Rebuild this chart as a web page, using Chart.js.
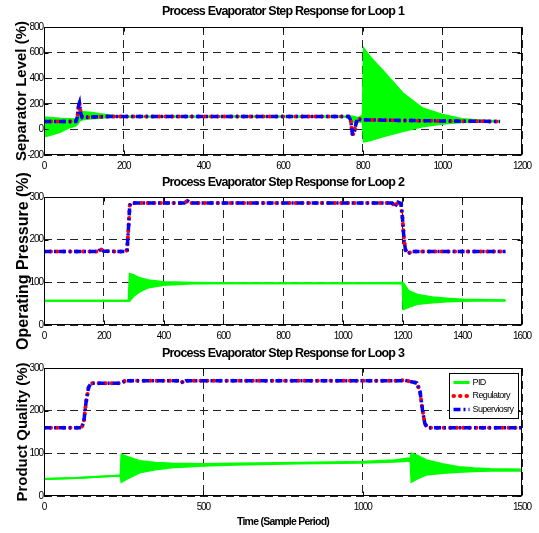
<!DOCTYPE html>
<html>
<head>
<meta charset="utf-8">
<script src="https://cdn.jsdelivr.net/npm/chart.js@4.4.0/dist/chart.umd.min.js"></script>
<style>
  body { margin: 0; background: #fff; }
  #wrap { position: relative; width: 539px; height: 533px; }
  canvas { position: absolute; left: 0; }
</style>
</head>
<body>
<div id="wrap">
  <canvas id="loop1Chart" width="539" height="172" style="top:0px"></canvas>
  <canvas id="loop2Chart" width="539" height="200" style="top:172px"></canvas>
  <canvas id="loop3Chart" width="539" height="189" style="top:344px"></canvas>
</div>
<script>
// series names (legend text as in the original figure)
const seriesNames = ['PID', 'Regulatory', 'Superviosry'];
const chartTitles = ['Process Evaporator Step Response for Loop 1',
                     'Process Evaporator Step Response for Loop 2',
                     'Process Evaporator Step Response for Loop 3'];
const yTitles = ['Separator Level (%)', 'Operating Pressure (%)', 'Product Quality (%)'];
const xTitle = 'Time (Sample Period)';

// Loop 1 - regulatory / supervisory set-point response
const loop1RefT = [0, 80, 84, 87, 89, 92, 96, 110, 150, 200, 400, 600, 765, 770, 774, 778, 782, 787, 795, 850, 900, 1000, 1100, 1145];
const loop1Reg  = [62, 62, 100, 190, 208, 130, 92, 95, 100, 101, 101, 101, 101, 70, -35, -38, 30, 85, 76, 72, 70, 66, 63, 62];
const loop1Sup  = [62, 62, 100, 190, 208, 130, 92, 95, 100, 101, 101, 101, 101, 70, -35, -38, 30, 85, 76, 72, 70, 66, 63, 62];
// Loop 1 - PID oscillation envelope (upper / lower)
const loop1PidT  = [0, 20, 40, 60, 80, 86, 90, 100, 120, 140, 160, 180, 200, 400, 700, 770, 775, 790, 800, 803, 820, 850, 900, 950, 1000, 1050, 1100, 1145];
const loop1PidHi = [95, 90, 85, 82, 80, 80, 130, 135, 130, 120, 112, 105, 102, 101, 101, 101, 100, 90, 110, 630, 560, 460, 285, 165, 115, 82, 70, 65];
const loop1PidLo = [-55, -40, -20, 10, 30, 50, 70, 80, 85, 90, 95, 98, 99, 100, 100, 99, 60, 60, 60, -95, -85, -55, -15, 22, 44, 55, 60, 62];

// Loop 2
const loop2RefT = [0, 180, 190, 200, 270, 278, 283, 287, 292, 300, 470, 480, 490, 600, 1000, 1165, 1175, 1185, 1195, 1200, 1205, 1210, 1218, 1230, 1300, 1545];
const loop2Reg  = [172, 172, 178, 173, 172, 175, 230, 280, 287, 286, 286, 291, 286, 286, 286, 286, 278, 288, 285, 250, 200, 176, 167, 172, 172, 172];
const loop2Sup  = [172, 172, 178, 173, 172, 175, 230, 280, 287, 286, 286, 291, 286, 286, 286, 286, 278, 288, 285, 250, 200, 176, 167, 172, 172, 172];
const loop2PidT  = [0, 283, 287, 300, 320, 350, 400, 500, 700, 1000, 1200, 1203, 1220, 1250, 1300, 1350, 1400, 1450, 1545];
const loop2PidHi = [57, 57, 120, 117, 110, 105, 101, 99, 98, 98, 99, 98, 80, 71, 65, 62, 60, 59, 58];
const loop2PidLo = [57, 57, 57, 68, 78, 88, 94, 97, 98, 98, 97, 37, 42, 49, 53, 55, 56, 57, 57];

// Loop 3
const loop3RefT = [0, 118, 125, 132, 140, 148, 160, 240, 255, 300, 430, 437, 445, 500, 1000, 1120, 1128, 1170, 1180, 1188, 1195, 1203, 1215, 1500];
const loop3Reg  = [160, 160, 175, 220, 255, 264, 264, 264, 270, 270, 270, 265, 270, 270, 270, 270, 272, 265, 245, 200, 170, 160, 160, 160];
const loop3Sup  = [160, 160, 175, 220, 255, 264, 264, 264, 270, 270, 270, 265, 270, 270, 270, 270, 272, 265, 245, 200, 170, 160, 160, 160];
const loop3PidT  = [0, 100, 200, 240, 243, 260, 300, 350, 400, 500, 600, 800, 1000, 1100, 1140, 1150, 1153, 1170, 1200, 1250, 1300, 1350, 1400, 1500];
const loop3PidHi = [40, 42, 46, 48, 97, 92, 82, 78, 76, 75, 76, 78, 80, 84, 88, 88, 100, 95, 84, 75, 68, 65, 63, 62];
const loop3PidLo = [40, 42, 46, 48, 33, 40, 55, 62, 67, 71, 73, 76, 78, 80, 82, 82, 33, 40, 50, 54, 56, 58, 59, 59];

// axis ranges / ticks
const xRanges = [[0, 1200, 200], [0, 1600, 200], [0, 1500, 500]];
const yRanges = [[-200, 800, 200], [0, 300, 100], [0, 300, 100]];

const GREEN = '#00ff00', RED = '#ff0000', BLUE = '#0000ff';
const SANS = "'Liberation Sans', Arial, sans-serif";

// the original figure uses a narrow, tightly set Helvetica; no narrow face is
// installed, so squeeze letter spacing per font size instead
const tightText = { '12.5px': '-0.8px', '10px': '-1.1px', '10.5px': '-0.75px', '9px': '-0.6px' };
['fillText', 'measureText'].forEach(fn => {
  const orig = CanvasRenderingContext2D.prototype[fn];
  CanvasRenderingContext2D.prototype[fn] = function () {
    const m = this.font.match(/([\d.]+px)/);
    this.letterSpacing = (m && tightText[m[1]]) || '0px';
    return orig.apply(this, arguments);
  };
});

function pts(xs, ys) { return xs.map((x, i) => ({ x: x, y: ys[i] })); }

// MATLAB-like box with inward ticks, and optional boxed legend
const framePlugin = {
  id: 'frame',
  afterDraw(chart, args, opts) {
    const { ctx, chartArea: a, scales } = chart;
    ctx.save();
    ctx.setLineDash([]);
    ctx.strokeStyle = '#000';
    ctx.lineWidth = 1;
    const L = Math.round(a.left) + 0.5, R = Math.round(a.right) - 0.5;
    const T = Math.round(a.top) + 0.5, B = Math.round(a.bottom) - 0.5;
    ctx.strokeRect(L, T, R - L, B - T);
    ctx.beginPath();
    scales.x.ticks.forEach(t => {
      const p = Math.round(scales.x.getPixelForValue(t.value)) + 0.5;
      ctx.moveTo(p, B); ctx.lineTo(p, B - 4);
      ctx.moveTo(p, T); ctx.lineTo(p, T + 4);
    });
    scales.y.ticks.forEach(t => {
      const p = Math.round(scales.y.getPixelForValue(t.value)) + 0.5;
      ctx.moveTo(L, p); ctx.lineTo(L + 4, p);
      ctx.moveTo(R, p); ctx.lineTo(R - 4, p);
    });
    ctx.stroke();

    if (opts.legend) {
      const w = 69, h = 45;
      const x0 = Math.round(a.right) - 4 - w + 0.5, y0 = Math.round(a.top) + 5 + 0.5;
      ctx.fillStyle = '#fff';
      ctx.fillRect(x0, y0, w, h);
      ctx.lineWidth = 1;
      ctx.strokeStyle = '#000';
      ctx.strokeRect(x0, y0, w, h);
      const styles = [
        { c: GREEN, w: 3, dash: [], cap: 'butt' },
        { c: RED, w: 4, dash: [0.5, 6], cap: 'round' },
        { c: BLUE, w: 3.5, dash: [7, 3, 2, 3], cap: 'butt' }
      ];
      ctx.font = '9px ' + SANS;
      ctx.textBaseline = 'middle';
      ctx.textAlign = 'left';
      seriesNames.forEach((name, i) => {
        const yy = y0 + 9 + i * 13.5;
        const s = styles[i];
        ctx.beginPath();
        ctx.strokeStyle = s.c; ctx.lineWidth = s.w; ctx.lineCap = s.cap;
        ctx.setLineDash(s.dash);
        ctx.moveTo(x0 + 4, yy); ctx.lineTo(x0 + 20, yy);
        ctx.stroke();
        ctx.fillStyle = '#000';
        ctx.fillText(name, x0 + 23, yy);
      });
    }
    ctx.restore();
  }
};

function makeChart(id, k, data, layout) {
  const [xmin, xmax, xstep] = xRanges[k];
  const [ymin, ymax, ystep] = yRanges[k];
  return new Chart(document.getElementById(id), {
    type: 'line',
    data: {
      datasets: [
        { label: seriesNames[0], data: pts(data.pidT, data.pidHi), borderColor: GREEN, borderWidth: 2, pointRadius: 0, fill: false, tension: 0, order: 3 },
        { label: seriesNames[0] + ' low', data: pts(data.pidT, data.pidLo), borderColor: GREEN, borderWidth: 2, pointRadius: 0, backgroundColor: GREEN, fill: '-1', tension: 0, order: 3 },
        { label: seriesNames[1], data: pts(data.refT, data.reg), borderColor: RED, borderWidth: 4, borderDash: [0.5, 6], borderCapStyle: 'round', pointRadius: 0, fill: false, tension: 0, order: 2 },
        { label: seriesNames[2], data: pts(data.refT, data.sup), borderColor: BLUE, borderWidth: 3.5, borderDash: [7, 3, 2, 3], pointRadius: 0, fill: false, tension: 0, order: 1 }
      ]
    },
    options: {
      responsive: false,
      animation: false,
      events: [],
      layout: { padding: { left: 0, right: 17, top: 0, bottom: 0 } },
      plugins: {
        legend: { display: false },
        tooltip: { enabled: false },
        title: {
          display: true, text: chartTitles[k], fullSize: false, color: '#000',
          font: { family: SANS, size: 12.5, weight: 'bold', lineHeight: 1.2 },
          padding: { top: layout.titleTop, bottom: layout.titleBottom }
        },
        frame: { legend: !!layout.legend }
      },
      scales: {
        x: {
          type: 'linear', min: xmin, max: xmax,
          afterFit: s => { s.height = layout.xHeight; },
          ticks: { stepSize: xstep, autoSkip: false, maxRotation: 0, padding: 5, color: '#000',
                   font: { family: SANS, size: 10 }, callback: v => String(v) },
          grid: { color: '#222', lineWidth: 1, drawTicks: false },
          border: { display: false, dash: [8, 5] },
          title: layout.xTitle ? { display: true, text: xTitle, color: '#000', padding: { top: 0, bottom: 4.7 },
                  font: { family: SANS, size: 10.5, weight: 'bold', lineHeight: 1.2 } } : { display: false }
        },
        y: {
          min: ymin, max: ymax,
          afterFit: s => { s.width = 44; },
          ticks: { stepSize: ystep, autoSkip: false, padding: 1, color: '#000',
                   font: { family: SANS, size: 10 }, callback: v => String(v) },
          grid: { color: '#222', lineWidth: 1, drawTicks: false },
          border: { display: false, dash: [8, 5] },
          title: { display: true, text: yTitles[k], color: '#000', padding: { top: layout.yTitlePad, bottom: 0 },
                   font: { family: SANS, size: layout.yTitleSize, weight: 'bold', lineHeight: 1.2 } }
        }
      }
    },
    plugins: [framePlugin]
  });
}

makeChart('loop1Chart', 0,
  { refT: loop1RefT, reg: loop1Reg, sup: loop1Sup, pidT: loop1PidT, pidHi: loop1PidHi, pidLo: loop1PidLo },
  { titleTop: 4.5, titleBottom: 7.5, xHeight: 17, yTitlePad: 13, yTitleSize: 15 });
makeChart('loop2Chart', 1,
  { refT: loop2RefT, reg: loop2Reg, sup: loop2Sup, pidT: loop2PidT, pidHi: loop2PidHi, pidLo: loop2PidLo },
  { titleTop: 3.5, titleBottom: 6.5, xHeight: 47, yTitlePad: 14, yTitleSize: 16 });
makeChart('loop3Chart', 2,
  { refT: loop3RefT, reg: loop3Reg, sup: loop3Sup, pidT: loop3PidT, pidHi: loop3PidHi, pidLo: loop3PidLo },
  { titleTop: 2.5, titleBottom: 6.5, xHeight: 37, yTitlePad: 14, yTitleSize: 15, xTitle: true, legend: true });
</script>
</body>
</html>
